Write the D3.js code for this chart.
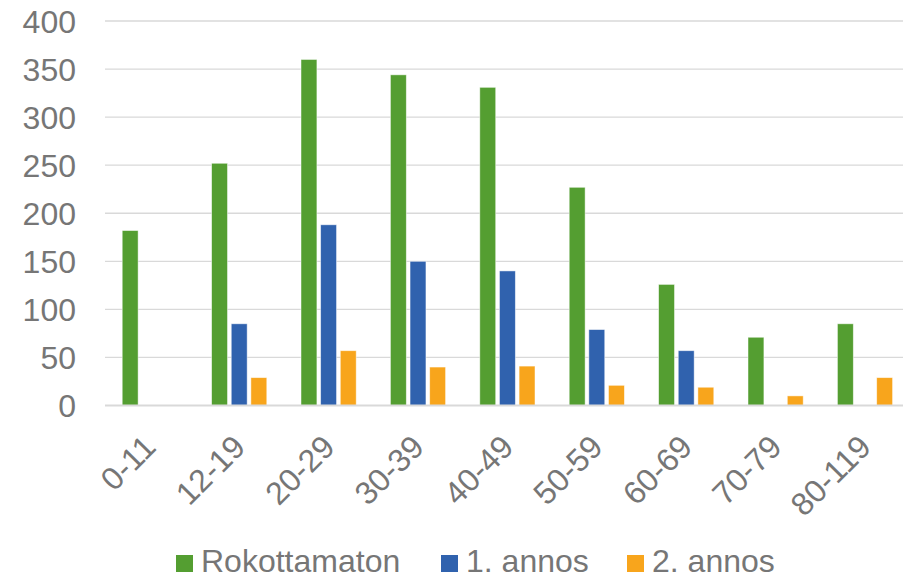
<!DOCTYPE html>
<meta charset="utf-8">
<script src="https://d3js.org/d3.v7.min.js"></script>
<style>
  body { margin: 0; background: #fff; }
  text { font-family: "Liberation Sans", Arial, sans-serif; fill: #767676; }
</style>
<div id="my_dataviz"></div>
<script>

// data
var categories = ["0-11", "12-19", "20-29", "30-39", "40-49", "50-59", "60-69", "70-79", "80-119"]
var seriesNames = ["Rokottamaton", "1. annos", "2. annos"]
var rokottamaton = [182, 252, 360, 344, 331, 227, 126, 71, 85]
var annos1 = [0, 85, 188, 150, 140, 79, 57, 0, 0]
var annos2 = [0, 29, 57, 40, 41, 21, 19, 10, 29]
var yTicks = [0, 50, 100, 150, 200, 250, 300, 350, 400]
var colors = ["#549e31", "#3062ae", "#f8a51c"]

var width = 903
var height = 580

var svg = d3.select("#my_dataviz")
  .append("svg")
    .attr("width", width)
    .attr("height", height)

// scales
var x0 = d3.scaleBand()
  .domain(categories)
  .range([105, 105 + 89.4 * categories.length])

var x1 = d3.scaleBand()
  .domain(seriesNames)
  .range([17.2, 72.4])
  .paddingInner(0.19)

var y = d3.scaleLinear()
  .domain([0, 400])
  .range([405.5, 21])

var color = d3.scaleOrdinal()
  .domain(seriesNames)
  .range(colors)

// gridlines
svg.append("g")
  .selectAll("line")
  .data(yTicks.slice(1))
  .enter()
  .append("line")
    .attr("x1", 105)
    .attr("x2", width)
    .attr("y1", function(d){ return y(d) })
    .attr("y2", function(d){ return y(d) })
    .attr("stroke", "#d9d9d9")
    .attr("stroke-width", 1.3)

// y labels
svg.append("g")
  .selectAll("text")
  .data(yTicks)
  .enter()
  .append("text")
    .attr("x", 76)
    .attr("y", function(d){ return y(d) })
    .attr("dy", "0.36em")
    .attr("text-anchor", "end")
    .style("font-size", "32px")
    .text(function(d){ return d })

// bars
var rows = categories.map(function(c, i){
  return { cat: c, values: [rokottamaton[i], annos1[i], annos2[i]] }
})

svg.append("g")
  .selectAll("g")
  .data(rows)
  .enter()
  .append("g")
    .attr("transform", function(d){ return "translate(" + x0(d.cat) + ",0)" })
  .selectAll("rect")
  .data(function(d){ return seriesNames.map(function(s, j){ return { key: s, value: d.values[j] } }) })
  .enter()
  .filter(function(d){ return d.value > 0 })
  .append("rect")
    .attr("x", function(d){ return x1(d.key) })
    .attr("width", x1.bandwidth())
    .attr("y", function(d){ return y(d.value) })
    .attr("height", function(d){ return y(0) - y(d.value) })
    .attr("fill", function(d){ return color(d.key) })
    .attr("stroke", "#ffffff")
    .attr("stroke-opacity", 0.6)
    .attr("stroke-width", 0.8)

// x axis line
svg.append("line")
  .attr("x1", 105)
  .attr("x2", width)
  .attr("y1", y(0))
  .attr("y2", y(0))
  .attr("stroke", "#d9d9d9")
  .attr("stroke-width", 2)

// x labels, rotated
svg.append("g")
  .selectAll("text")
  .data(categories)
  .enter()
  .append("text")
    .attr("transform", function(d){
      var cx = x0(d) + x0.bandwidth() / 2
      return "translate(" + (cx + 8) + ",449) rotate(-45)"
    })
    .attr("text-anchor", "end")
    .style("font-size", "32px")
    .text(function(d){ return d })

// legend
var legendX = [176, 441, 627]
var legend = svg.append("g")
  .selectAll("g")
  .data(seriesNames)
  .enter()
  .append("g")
    .attr("transform", function(d, i){ return "translate(" + legendX[i] + ",555)" })

legend.append("rect")
  .attr("width", 17)
  .attr("height", 17)
  .attr("fill", function(d){ return color(d) })

legend.append("text")
  .attr("x", 25)
  .attr("y", 17)
  .style("font-size", "32px")
  .text(function(d){ return d })
</script>
